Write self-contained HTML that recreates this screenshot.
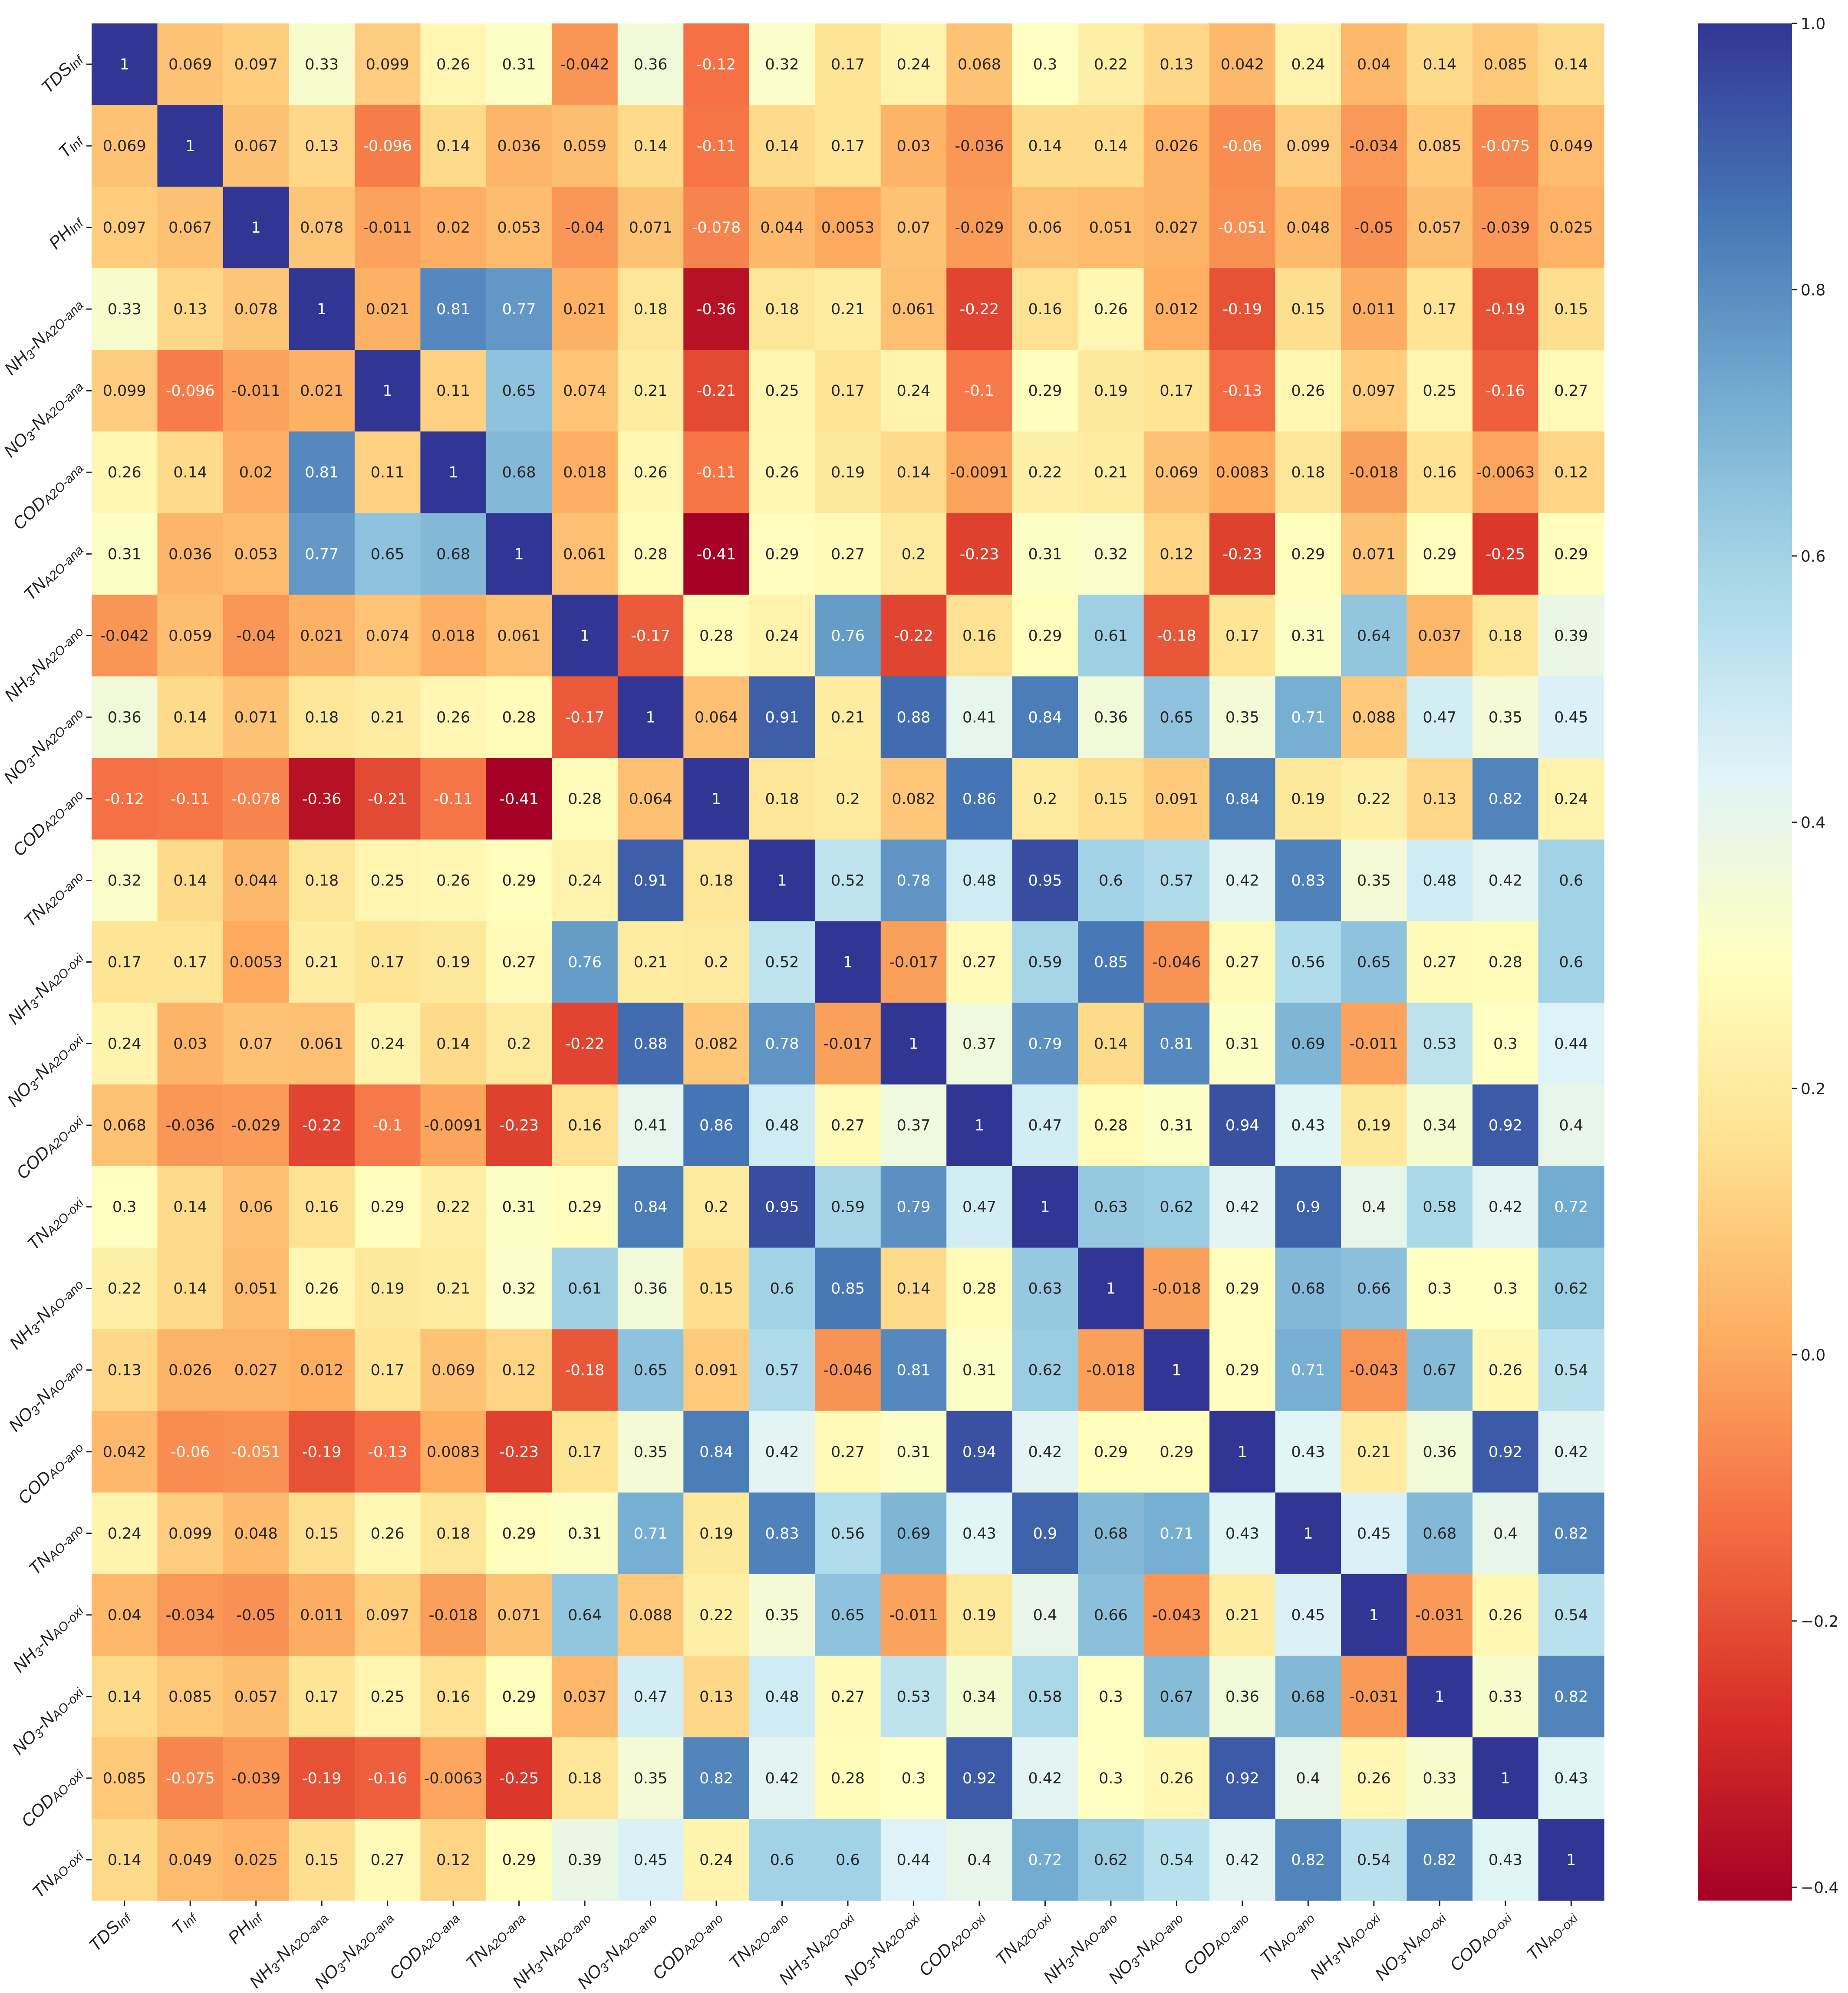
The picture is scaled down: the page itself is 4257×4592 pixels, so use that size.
<!DOCTYPE html>
<html><head><meta charset="utf-8"><style>
html,body{margin:0;padding:0;background:#fff;}
svg{display:block;font-family:"DejaVu Sans","Liberation Sans",sans-serif;}
</style></head><body>
<svg id="chart" width="4257" height="4592" viewBox="0 0 4257 4592" xmlns="http://www.w3.org/2000/svg">
<defs><linearGradient id="cbgrad" x1="0" y1="1" x2="0" y2="0"></linearGradient></defs>
<g id="cells"></g>
<g id="yticks"></g>
<g id="xticks"></g>
<g id="cbar"></g>
</svg>
<script>
const labelMain = ["TDS","T","PH","NH","NO","COD","TN","NH","NO","COD","TN","NH","NO","COD","TN","NH","NO","COD","TN","NH","NO","COD","TN"];
const labelSub = ["Inf","Inf","Inf","A2O-ana","A2O-ana","A2O-ana","A2O-ana","A2O-ano","A2O-ano","A2O-ano","A2O-ano","A2O-oxi","A2O-oxi","A2O-oxi","A2O-oxi","AO-ano","AO-ano","AO-ano","AO-ano","AO-oxi","AO-oxi","AO-oxi","AO-oxi"];
const r0=[1,0.069,0.097,0.33,0.099,0.26,0.31,-0.042,0.36,-0.12,0.32,0.17,0.24,0.068,0.3,0.22,0.13,0.042,0.24,0.04,0.14,0.085,0.14];
const r1=[0.069,1,0.067,0.13,-0.096,0.14,0.036,0.059,0.14,-0.11,0.14,0.17,0.03,-0.036,0.14,0.14,0.026,-0.06,0.099,-0.034,0.085,-0.075,0.049];
const r2=[0.097,0.067,1,0.078,-0.011,0.02,0.053,-0.04,0.071,-0.078,0.044,0.0053,0.07,-0.029,0.06,0.051,0.027,-0.051,0.048,-0.05,0.057,-0.039,0.025];
const r3=[0.33,0.13,0.078,1,0.021,0.81,0.77,0.021,0.18,-0.36,0.18,0.21,0.061,-0.22,0.16,0.26,0.012,-0.19,0.15,0.011,0.17,-0.19,0.15];
const r4=[0.099,-0.096,-0.011,0.021,1,0.11,0.65,0.074,0.21,-0.21,0.25,0.17,0.24,-0.1,0.29,0.19,0.17,-0.13,0.26,0.097,0.25,-0.16,0.27];
const r5=[0.26,0.14,0.02,0.81,0.11,1,0.68,0.018,0.26,-0.11,0.26,0.19,0.14,-0.0091,0.22,0.21,0.069,0.0083,0.18,-0.018,0.16,-0.0063,0.12];
const r6=[0.31,0.036,0.053,0.77,0.65,0.68,1,0.061,0.28,-0.41,0.29,0.27,0.2,-0.23,0.31,0.32,0.12,-0.23,0.29,0.071,0.29,-0.25,0.29];
const r7=[-0.042,0.059,-0.04,0.021,0.074,0.018,0.061,1,-0.17,0.28,0.24,0.76,-0.22,0.16,0.29,0.61,-0.18,0.17,0.31,0.64,0.037,0.18,0.39];
const r8=[0.36,0.14,0.071,0.18,0.21,0.26,0.28,-0.17,1,0.064,0.91,0.21,0.88,0.41,0.84,0.36,0.65,0.35,0.71,0.088,0.47,0.35,0.45];
const r9=[-0.12,-0.11,-0.078,-0.36,-0.21,-0.11,-0.41,0.28,0.064,1,0.18,0.2,0.082,0.86,0.2,0.15,0.091,0.84,0.19,0.22,0.13,0.82,0.24];
const r10=[0.32,0.14,0.044,0.18,0.25,0.26,0.29,0.24,0.91,0.18,1,0.52,0.78,0.48,0.95,0.6,0.57,0.42,0.83,0.35,0.48,0.42,0.6];
const r11=[0.17,0.17,0.0053,0.21,0.17,0.19,0.27,0.76,0.21,0.2,0.52,1,-0.017,0.27,0.59,0.85,-0.046,0.27,0.56,0.65,0.27,0.28,0.6];
const r12=[0.24,0.03,0.07,0.061,0.24,0.14,0.2,-0.22,0.88,0.082,0.78,-0.017,1,0.37,0.79,0.14,0.81,0.31,0.69,-0.011,0.53,0.3,0.44];
const r13=[0.068,-0.036,-0.029,-0.22,-0.1,-0.0091,-0.23,0.16,0.41,0.86,0.48,0.27,0.37,1,0.47,0.28,0.31,0.94,0.43,0.19,0.34,0.92,0.4];
const r14=[0.3,0.14,0.06,0.16,0.29,0.22,0.31,0.29,0.84,0.2,0.95,0.59,0.79,0.47,1,0.63,0.62,0.42,0.9,0.4,0.58,0.42,0.72];
const r15=[0.22,0.14,0.051,0.26,0.19,0.21,0.32,0.61,0.36,0.15,0.6,0.85,0.14,0.28,0.63,1,-0.018,0.29,0.68,0.66,0.3,0.3,0.62];
const r16=[0.13,0.026,0.027,0.012,0.17,0.069,0.12,-0.18,0.65,0.091,0.57,-0.046,0.81,0.31,0.62,-0.018,1,0.29,0.71,-0.043,0.67,0.26,0.54];
const r17=[0.042,-0.06,-0.051,-0.19,-0.13,0.0083,-0.23,0.17,0.35,0.84,0.42,0.27,0.31,0.94,0.42,0.29,0.29,1,0.43,0.21,0.36,0.92,0.42];
const r18=[0.24,0.099,0.048,0.15,0.26,0.18,0.29,0.31,0.71,0.19,0.83,0.56,0.69,0.43,0.9,0.68,0.71,0.43,1,0.45,0.68,0.4,0.82];
const r19=[0.04,-0.034,-0.05,0.011,0.097,-0.018,0.071,0.64,0.088,0.22,0.35,0.65,-0.011,0.19,0.4,0.66,-0.043,0.21,0.45,1,-0.031,0.26,0.54];
const r20=[0.14,0.085,0.057,0.17,0.25,0.16,0.29,0.037,0.47,0.13,0.48,0.27,0.53,0.34,0.58,0.3,0.67,0.36,0.68,-0.031,1,0.33,0.82];
const r21=[0.085,-0.075,-0.039,-0.19,-0.16,-0.0063,-0.25,0.18,0.35,0.82,0.42,0.28,0.3,0.92,0.42,0.3,0.26,0.92,0.4,0.26,0.33,1,0.43];
const r22=[0.14,0.049,0.025,0.15,0.27,0.12,0.29,0.39,0.45,0.24,0.6,0.6,0.44,0.4,0.72,0.62,0.54,0.42,0.82,0.54,0.82,0.43,1];
const matrix=[r0,r1,r2,r3,r4,r5,r6,r7,r8,r9,r10,r11,r12,r13,r14,r15,r16,r17,r18,r19,r20,r21,r22];
const cbTicks=[1.0,0.8,0.6,0.4,0.2,0.0,-0.2,-0.4];
const vmin=-0.41, vmax=1.0;

const NS="http://www.w3.org/2000/svg";
const L=211,T=54,R=3695,B=4379;
const n=labelMain.length;
const cw=(R-L)/n, ch=(B-T)/n;
const xs=i=>L+i*cw, ys=j=>T+j*ch;
const stops=["#a50026","#d73027","#f46d43","#fdae61","#fee090","#ffffbf","#e0f3f8","#abd9e9","#74add1","#4575b4","#313695"].map(h=>[parseInt(h.slice(1,3),16),parseInt(h.slice(3,5),16),parseInt(h.slice(5,7),16)]);
function cmap(v){let t=(v-vmin)/(vmax-vmin);t=Math.max(0,Math.min(1,t));const p=t*(stops.length-1);const k=Math.min(stops.length-2,Math.floor(p));const f=p-k;const a=stops[k],b=stops[k+1];return [0,1,2].map(c=>Math.round(a[c]+(b[c]-a[c])*f));}
function lum(rgb){const c=rgb.map(x=>{x/=255;return x<=0.03928?x/12.92:Math.pow((x+0.055)/1.055,2.4);});return 0.2126*c[0]+0.7152*c[1]+0.0722*c[2];}
function mk(tag,attrs,parent){const e=document.createElementNS(NS,tag);for(const k in attrs)e.setAttribute(k,attrs[k]);parent.appendChild(e);return e;}
function fmt(v){return String(v);}
const cells=document.getElementById('cells');
matrix.forEach((row,j)=>row.forEach((v,i)=>{
  const col=cmap(v);
  const r=mk('rect',{x:xs(i),y:ys(j),width:cw+0.6,height:ch+0.6,fill:`rgb(${col})`},cells);
  
  
  const t=mk('text',{x:xs(i)+cw/2,y:ys(j)+ch/2+12,'text-anchor':'middle','font-size':35,fill:lum(col)<0.408?'#fff':'#262626'},cells);
  
  
  t.textContent=fmt(v);
}));
function addLabel(parent,i,x,y){
  const t=mk('text',{x:x,y:y,'text-anchor':'end','font-style':'italic','font-size':40,'font-family':'"Liberation Sans",sans-serif',fill:'#222',transform:`rotate(-45 ${x} ${y})`},parent);
  
  
  const m=labelMain[i];
  const s1=mk('tspan',{},t);s1.textContent=m;
  if(m==='NH'||m==='NO'){
    const s2=mk('tspan',{'font-size':29,dy:6},t);s2.textContent='3';
    const s3=mk('tspan',{dy:-6},t);s3.textContent='-N';
  }
  const s4=mk('tspan',{'font-size':29,dy:4},t);s4.textContent=labelSub[i];
}
const yt=document.getElementById('yticks'), xt=document.getElementById('xticks');
for(let i=0;i<n;i++){
  const cy=ys(i)+ch/2;
  mk('line',{x1:L-12,y1:cy,x2:L,y2:cy,stroke:'#222','stroke-width':3},yt);
  addLabel(yt,i,L-20,cy-10);
  const cx=xs(i)+cw/2;
  mk('line',{x1:cx,y1:B,x2:cx,y2:B+12,stroke:'#222','stroke-width':3},xt);
  addLabel(xt,i,cx+14,B+40);
}
const CL=3912,CR=4128;
const grad=document.getElementById('cbgrad');
for(let k=0;k<=40;k++){const v=vmin+(vmax-vmin)*k/40;mk('stop',{offset:(k/40),'stop-color':`rgb(${cmap(v)})`},grad);}
const cb=document.getElementById('cbar');
const cbr=mk('rect',{x:CL,y:T,width:CR-CL,height:B-T,fill:'url(#cbgrad)'},cb);


const cy=v=>B-(v-vmin)/(vmax-vmin)*(B-T);
cbTicks.forEach(v=>{
  const y=cy(v);
  mk('line',{x1:CR,y1:y,x2:CR+12,y2:y,stroke:'#222','stroke-width':3},cb);
  const t=mk('text',{x:CR+20,y:y+13,'font-size':36,fill:'#222'},cb);
  
  
  t.textContent=(v<0?'\u2212':'')+Math.abs(v).toFixed(1);
});
</script>
</body></html>
